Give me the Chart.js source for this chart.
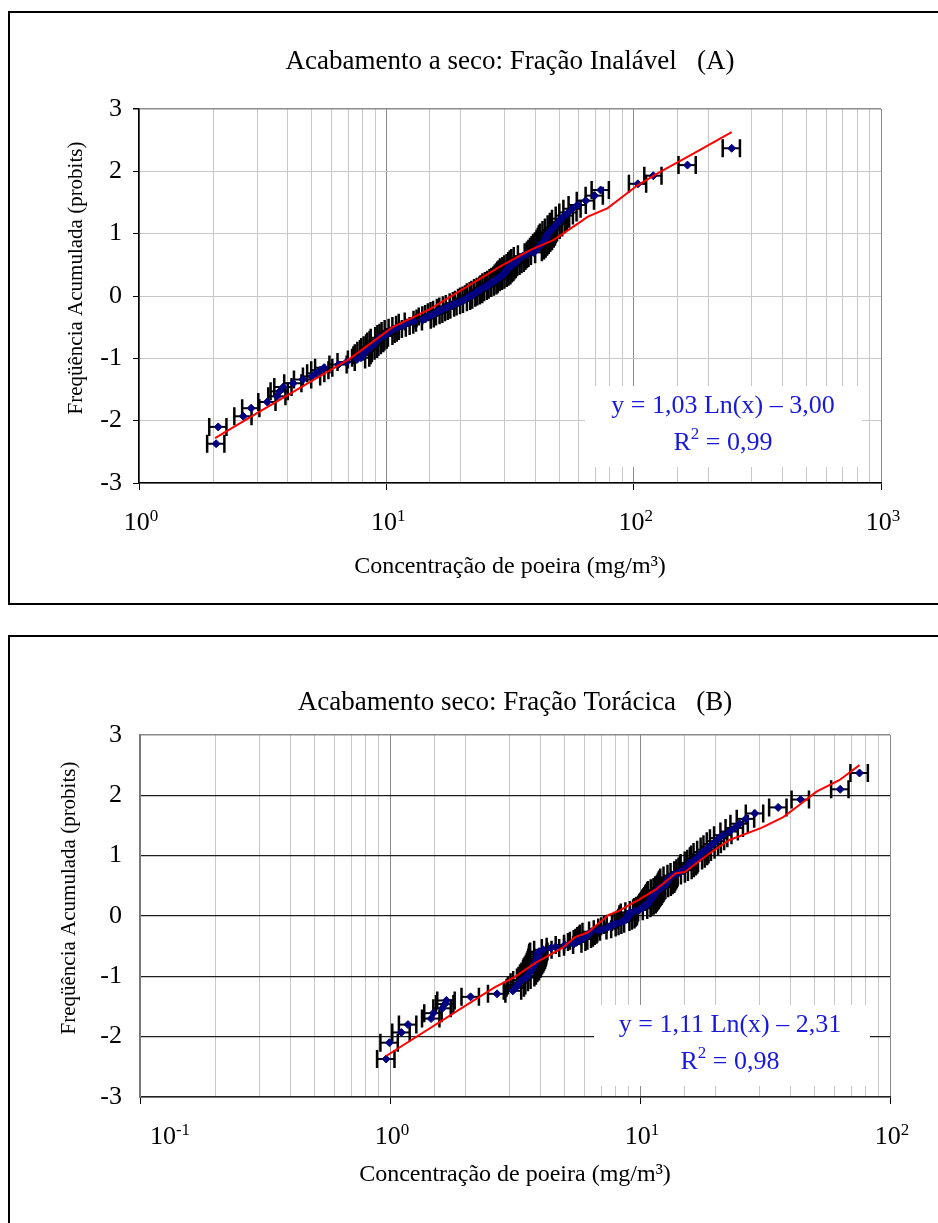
<!DOCTYPE html>
<html>
<head>
<meta charset="utf-8">
<script src="https://cdn.jsdelivr.net/npm/chart.js@4.4.1/dist/chart.umd.min.js"></script>
<style>
  body { margin: 0; background: #fff; width: 938px; height: 1223px; overflow: hidden; position: relative; }
  .box { position: absolute; border: 2px solid #000; }
  #boxA { left: 8px; top: 11px; width: 960px; height: 590px; }
  #boxB { left: 8px; top: 635px; width: 960px; height: 700px; }
  canvas { position: absolute; left: 0; }
  #chartA { top: 0; }
  #chartB { top: 620px; }
</style>
</head>
<body>
<div class="box" id="boxA"></div>
<div class="box" id="boxB"></div>
<canvas id="chartA" width="938" height="600"></canvas>
<canvas id="chartB" width="938" height="603"></canvas>
<script>
// cumulative frequency in probits (same sample size in both panels)
const probit = [-2.37,-2.10,-1.93,-1.80,-1.70,-1.61,-1.53,-1.46,-1.40,-1.34,-1.29,-1.24,-1.19,-1.15,-1.10,-1.06,-1.02,-0.99,-0.95,-0.92,
  -0.88,-0.85,-0.82,-0.79,-0.76,-0.73,-0.70,-0.67,-0.64,-0.61,-0.59,-0.56,-0.53,-0.51,-0.48,-0.46,-0.43,-0.41,-0.38,-0.36,
  -0.33,-0.31,-0.29,-0.26,-0.24,-0.22,-0.19,-0.17,-0.15,-0.13,-0.10,-0.08,-0.06,-0.03,-0.01,
  0.01,0.03,0.06,0.08,0.10,0.13,0.15,0.17,0.19,0.22,0.24,0.26,0.29,0.31,0.33,0.36,0.38,0.41,0.43,0.46,
  0.48,0.51,0.53,0.56,0.59,0.61,0.64,0.67,0.70,0.73,0.76,0.79,0.82,0.85,0.88,0.92,0.95,0.99,1.02,1.06,
  1.10,1.15,1.19,1.24,1.29,1.34,1.40,1.46,1.53,1.61,1.70,1.80,1.93,2.10,2.37]

// (A) inhalable fraction, mg/m3
const concA = [2.05,2.09,2.64,2.84,3.30,3.62,3.70,3.83,4.20,4.60,5.00,5.20,5.40,5.60,6.40,6.90,7.60,7.90,8.00,8.10,
  8.30,8.50,8.60,8.80,9.00,9.10,9.30,9.40,9.80,10.0,10.2,10.4,10.7,11.1,11.5,11.9,12.2,12.9,14.0,14.4,
  14.7,15.2,15.6,16.0,16.4,16.8,17.4,17.8,18.4,18.9,19.6,20.2,20.6,21.2,21.6,
  22.1,22.6,23.0,23.6,24.0,24.6,25.2,25.8,26.1,26.6,27.2,27.8,28.4,28.9,29.4,29.8,30.2,30.5,30.9,31.3,
  32.0,32.6,33.3,33.8,34.3,34.8,35.6,37.0,39.4,40.2,40.8,41.4,42.0,42.6,43.3,44.0,44.5,44.9,45.4,46.5,
  47.6,48.8,49.8,50.8,52.6,54.4,56.5,59.3,64.0,69.5,73.5,104,120,165,249]

// (B) thoracic fraction, mg/m3
const concB = [0.965,0.995,1.11,1.18,1.46,1.49,1.62,1.66,1.68,2.10,2.68,3.10,3.18,3.22,3.30,3.38,3.50,3.55,3.60,3.65,
  3.70,3.72,3.76,3.80,3.83,3.86,3.88,3.90,3.91,3.92,3.95,4.10,4.40,4.60,5.00,5.40,5.60,5.70,5.90,6.00,
  6.10,6.20,6.25,6.40,6.80,7.10,7.40,7.60,7.80,8.00,8.40,8.60,8.80,8.90,9.00,
  9.00,9.00,9.10,9.50,9.90,10.2,10.3,10.5,10.7,10.8,10.9,11.0,11.1,11.2,11.3,11.4,11.5,11.6,11.7,12.0,
  12.3,12.5,12.7,12.8,12.9,13.0,13.1,13.5,14.0,14.4,14.9,15.2,15.5,15.7,15.8,16.4,16.8,17.2,17.4,17.8,
  18.4,19.0,19.5,20.1,20.7,21.5,22.8,23.9,25.0,26.5,28.8,35.7,43.9,63.2,75.5]

// red fitted lines
const fitAx = [2.03,3.0,5.0,7.15,10.6,15,20,29,38.3,47.5,59.9,65,78.5,104,128,175,249]
const fitAy = [-2.28,-1.88,-1.36,-1.00,-0.50,-0.21,0.09,0.48,0.74,0.90,1.17,1.27,1.41,1.78,1.99,2.29,2.63]
const fitBx = [0.965,2.18,2.63,3.16,3.8,4.89,5.5,6.2,7.5,8.2,9.9,11.6,13.9,15.1,19.0,22.8,30.6,37.4,43.4,50.8,62.7,75.5]
const fitBy = [-2.32,-1.39,-1.18,-1.01,-0.78,-0.53,-0.35,-0.27,0.02,0.08,0.27,0.44,0.71,0.73,1.04,1.26,1.46,1.64,1.84,2.06,2.25,2.50]

const errFrac = 0.08   // horizontal error bar, fraction of x
const capH = 9

const FONT = "'Liberation Serif', 'Times New Roman', serif"

function isDecade(v) {
  const l = Math.log10(v)
  return Math.abs(l - Math.round(l)) < 1e-6
}

function pairs(xs, ys) {
  return xs.map((x, i) => ({x: x, y: ys[i]}))
}

// white box with the regression text
const equationBox = {
  id: 'equationBox',
  beforeDatasetsDraw(chart, args, o) {
    const ctx = chart.ctx
    ctx.save()
    ctx.fillStyle = '#fff'
    ctx.fillRect(o.x, o.y, o.w, o.h)
    ctx.fillStyle = 'rgb(25,25,220)'
    ctx.textBaseline = 'middle'
    ctx.textAlign = 'center'
    ctx.font = '26px ' + FONT
    ctx.fillText(o.line1, o.cx, o.y1)
    // "R2 = ..." with superscript
    const a = 'R', b = '2', c = ' = ' + o.r2
    const wa = ctx.measureText(a).width, wc = ctx.measureText(c).width
    ctx.font = '17px ' + FONT
    const wb = ctx.measureText(b).width
    let x = o.cx - (wa + wb + wc) / 2
    ctx.textAlign = 'left'
    ctx.font = '26px ' + FONT
    ctx.fillText(a, x, o.y2)
    ctx.font = '17px ' + FONT
    ctx.fillText(b, x + wa, o.y2 - 8)
    ctx.font = '26px ' + FONT
    ctx.fillText(c, x + wa + wb, o.y2)
    ctx.restore()
  }
}

const errorBars = {
  id: 'errorBars',
  beforeDatasetsDraw(chart) {
    const ds = chart.data.datasets[1]
    const xs = chart.scales.x, ys = chart.scales.y
    const ctx = chart.ctx
    ctx.save()
    ctx.strokeStyle = '#000'
    ds.data.forEach(p => {
      const y = ys.getPixelForValue(p.y)
      const x1 = xs.getPixelForValue(p.x * (1 - errFrac))
      const x2 = xs.getPixelForValue(p.x * (1 + errFrac))
      ctx.lineWidth = 2
      ctx.beginPath(); ctx.moveTo(x1, y); ctx.lineTo(x2, y); ctx.stroke()
      ctx.lineWidth = 2.5
      ctx.beginPath()
      ctx.moveTo(x1, y - capH); ctx.lineTo(x1, y + capH)
      ctx.moveTo(x2, y - capH); ctx.lineTo(x2, y + capH)
      ctx.stroke()
    })
    ctx.restore()
  }
}

// 10^n labels and the rotated y title
const axisText = {
  id: 'axisText',
  afterDraw(chart, args, o) {
    const xs = chart.scales.x, ctx = chart.ctx, area = chart.chartArea
    ctx.save()
    ctx.fillStyle = '#000'
    ctx.textBaseline = 'alphabetic'
    ctx.textAlign = 'left'
    let first = true
    xs.ticks.forEach(t => {
      if (!isDecade(t.value)) return
      const e = String(Math.round(Math.log10(t.value)))
      ctx.font = '26px ' + FONT
      const w1 = ctx.measureText('10').width
      ctx.font = '17px ' + FONT
      const w2 = ctx.measureText(e).width
      let x0 = xs.getPixelForValue(t.value) - (w1 + w2) / 2 + 2
      if (first) x0 += o.firstShift
      first = false
      const base = area.bottom + 47
      ctx.font = '26px ' + FONT
      ctx.fillText('10', x0, base)
      ctx.font = '17px ' + FONT
      ctx.fillText(e, x0 + w1, base - 9)
    })
    ctx.translate(o.yTitleX, (area.top + area.bottom) / 2 + o.yTitleDy)
    ctx.rotate(-Math.PI / 2)
    ctx.textAlign = 'center'
    ctx.textBaseline = 'middle'
    ctx.font = '21px ' + FONT
    ctx.fillText('Freqüência Acumulada (probits)', 0, 0)
    ctx.restore()
  }
}

function makeChart(id, g) {
  const canvas = document.getElementById(id)
  const W = canvas.width, H = canvas.height
  const tSize = 27, tLh = tSize * 1.2
  const xtSize = 24, xtLh = xtSize * 1.2
  return new Chart(canvas, {
    type: 'scatter',
    data: {
      datasets: [{
        data: pairs(g.fitX, g.fitY),
        showLine: true,
        borderColor: '#ff0000',
        borderWidth: 2,
        pointRadius: 0,
        tension: 0
      }, {
        data: pairs(g.conc, probit),
        pointStyle: 'rectRot',
        pointRadius: 4,
        backgroundColor: '#000080',
        borderColor: '#000080',
        borderWidth: 1
      }]
    },
    options: {
      responsive: false,
      animation: false,
      layout: {padding: {left: 0, top: 0, bottom: 0, right: W - g.right}},
      plugins: {
        legend: {display: false},
        tooltip: {enabled: false},
        title: {
          display: true,
          text: g.title,
          fullSize: false,
          color: '#000',
          font: {family: FONT, size: tSize, weight: 'normal'},
          padding: {top: g.titleY - tLh / 2, bottom: g.top - g.titleY - tLh / 2}
        },
        equationBox: g.eq,
        axisText: {yTitleX: g.yTitleX, yTitleDy: -18, firstShift: g.firstShift}
      },
      scales: {
        x: {
          type: 'logarithmic',
          min: g.xmin,
          max: g.xmax,
          ticks: {display: false, autoSkip: false},
          grid: {
            color: c => (c.tick && isDecade(c.tick.value)) ? '#8c8c8c' : '#c8c8c8',
            lineWidth: 1,
            tickLength: 7,
            tickColor: c => (c.tick && isDecade(c.tick.value)) ? '#000' : 'rgba(0,0,0,0)'
          },
          border: {color: g.xBorder, width: 1.5},
          title: {
            display: true,
            text: 'Concentração de poeira (mg/m³)',
            color: '#000',
            font: {family: FONT, size: xtSize},
            padding: {top: 0, bottom: H - g.xTitleY - xtLh / 2}
          },
          afterFit: s => { s.height = H - g.bottom }
        },
        y: {
          min: -3,
          max: 3,
          ticks: {stepSize: 1, color: '#000', font: {family: FONT, size: 26}, padding: g.yPad},
          grid: {
            color: c => (c.tick && c.tick.value === 3) ? '#8c8c8c' : g.hGrid,
            lineWidth: c => (c.tick && c.tick.value === 3) ? 1.5 : g.hGridW,
            tickLength: 6,
            tickColor: g.yTick
          },
          border: {color: g.yBorder, width: g.yBorderW},
          afterFit: s => { s.width = g.left }
        }
      }
    },
    plugins: [equationBox, errorBars, axisText]
  })
}

makeChart('chartA', {
  title: 'Acabamento a seco: Fração Inalável   (A)',
  conc: concA, fitX: fitAx, fitY: fitAy,
  xmin: 1, xmax: 1000,
  left: 139, right: 881, top: 109, bottom: 483,
  titleY: 62, xTitleY: 567, yTitleX: 76, yPad: 11, firstShift: 0,
  hGrid: '#c8c8c8', hGridW: 1, yTick: '#000',
  xBorder: '#000', yBorder: '#000', yBorderW: 1.5,
  eq: {x: 585, y: 386, w: 277, h: 81, cx: 723, y1: 406, y2: 443,
       line1: 'y = 1,03 Ln(x) – 3,00', r2: '0,99'}
})

makeChart('chartB', {
  title: 'Acabamento seco: Fração Torácica   (B)',
  conc: concB, fitX: fitBx, fitY: fitBy,
  xmin: 0.1, xmax: 100,
  left: 140, right: 890, top: 115, bottom: 477,
  titleY: 83, xTitleY: 555, yTitleX: 69, yPad: 12, firstShift: 28,
  hGrid: '#1e1e1e', hGridW: 1.2, yTick: 'rgba(0,0,0,0)',
  xBorder: '#222', yBorder: '#7a7a7a', yBorderW: 2,
  eq: {x: 594, y: 385, w: 276, h: 81, cx: 730, y1: 405, y2: 442,
       line1: 'y = 1,11 Ln(x) – 2,31', r2: '0,98'}
})
</script>
</body>
</html>
